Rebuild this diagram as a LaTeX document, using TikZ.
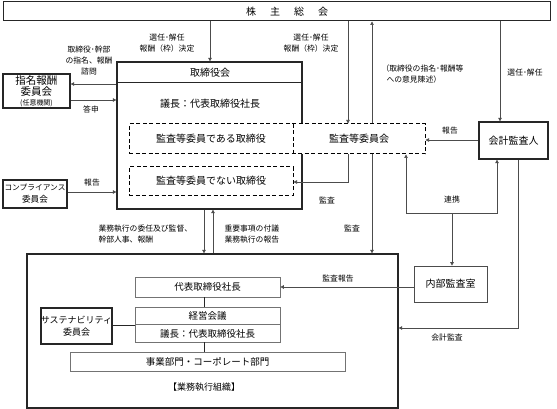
\documentclass[tikz,border=0pt]{standalone}
\usepackage{fontspec}
\setmainfont{Noto Sans CJK JP}
\usetikzlibrary{arrows.meta}
\begin{document}
\begin{tikzpicture}[x=1pt,y=-1pt,
  big/.style={font=\fontsize{10}{12}\selectfont},
  lab/.style={font=\fontsize{7.8}{11.5}\selectfont},
  thickbox/.style={draw=black!85,line width=1.3pt,fill=white,inner sep=0pt},
  thinbox/.style={draw=black!55,line width=0.7pt,fill=white,inner sep=0pt},
  dbox/.style={draw=black,line width=1pt,dash pattern=on 4pt off 2.5pt,fill=white,inner sep=0pt},
  arr/.style={draw=black!70,line width=0.7pt,-{Triangle[length=3.5pt,width=3.5pt]}},
  ln/.style={draw=black!85,line width=1pt},
  bx/.style 2 args={minimum width=#1,minimum height=#2}]
\useasboundingbox (0,0) rectangle (557,409);
% shareholders
\node[thickbox,bx={547pt}{19pt},line width=1pt] (sh) at (276.5,11.5) {};
\node[big] (shT) at (287,11.5) {株\hspace{14pt}主\hspace{14pt}総\hspace{14pt}会};
% board
\node[thickbox,bx={185pt}{147pt}] (board) at (209.5,135.5) {};
\draw[ln] (117,83) -- (302,83);
\node[big] (boardT) at (210,72.5) {取締役会};
\node[big] (chair) at (210,104) {議長：代表取締役社長};
% audit committee dashed
\node[dbox,bx={296pt}{30pt}] (aud) at (277,139) {};
\draw[line width=1pt,dash pattern=on 4pt off 2.5pt] (293,124) -- (293,154);
\node[big] (audd) at (211,139) {監査等委員である取締役};
\node[big] (audT) at (359,139) {監査等委員会};
\node[dbox,bx={164pt}{28pt}] (nond) at (211,181) {\fontsize{10}{12}\selectfont 監査等委員でない取締役};
% left committees
\node[thickbox,bx={67pt}{34pt},align=center] (nom) at (36.5,91) {\fontsize{10.5}{11}\selectfont 指名報酬\\[-1pt]\fontsize{10.5}{11}\selectfont 委員会\\[-2pt]\fontsize{7}{8}\selectfont (任意機関)};
\node[thickbox,bx={64pt}{28pt},align=center] (comp) at (35,194) {\fontsize{7.7}{11}\selectfont コンプライアンス\\\fontsize{8.6}{11}\selectfont 委員会};
% right side
\node[thickbox,bx={69pt}{37pt}] (kai) at (513.5,140.5) {\fontsize{10}{12}\selectfont 会計監査人};
\node[thinbox,bx={73pt}{36pt},draw=black!70] (naibu) at (450.5,284) {\fontsize{10}{12}\selectfont 内部監査室};
% execution
\node[thickbox,bx={371pt}{154pt}] (exec) at (212.5,331) {};
\node[thinbox,bx={145pt}{20pt}] (pres) at (207.5,287) {\fontsize{9.5}{12}\selectfont 代表取締役社長};
\node[thinbox,bx={145pt}{35pt}] (keiei) at (207.5,324.5) {};
\draw[draw=black!55,line width=0.7pt] (135,324) -- (280,324);
\node[font=\fontsize{9.5}{12}\selectfont] (keieiT) at (207.5,315.5) {経営会議};
\node[font=\fontsize{9.5}{12}\selectfont] (keieiC) at (207.5,333.5) {議長：代表取締役社長};
\node[thinbox,bx={275pt}{19pt}] (jigyo) at (207.5,361.5) {\fontsize{9.5}{12}\selectfont 事業部門・コーポレート部門};
\node[thickbox,bx={67pt}{36pt},align=center] (sust) at (76.5,326) {\fontsize{9}{11}\selectfont サステナビリティ\\\fontsize{9}{11}\selectfont 委員会};
\node[font=\fontsize{9}{12}\selectfont] (org) at (204,387) {【業務執行組織】};
% connectors
\draw[arr] (sh.south -| 210,0) -- (board.north -| 210,0);
\draw[arr] (sh.south -| 348,0) -- (aud.north -| 348,0);
\draw[arr] (aud.north -| 372,0) -- (sh.south -| 372,0);
\draw[arr] (sh.south -| 500,0) -- (kai.north -| 500,0);
\draw[arr] (board.west |- 0,84) -- (nom.east |- 0,84);
\draw[arr] (nom.east |- 0,100) -- (board.west |- 0,100);
\draw[arr] (comp.east |- 0,192) -- (board.west |- 0,192);
\draw[arr] (kai.west |- 0,140) -- (aud.east |- 0,140);
\draw[arr] (aud.south -| 348,0) |- (nond.east |- 0,182);
\draw[arr] (aud.south -| 372,0) -- (exec.north -| 372,0);
\coordinate (rk) at (452,213);
\draw[arr] (rk) -| (aud.south -| 406,0);
\draw[arr] (rk) -| (kai.south -| 497,0);
\draw[arr] (rk) -- (naibu.north -| rk);
\draw[arr] (naibu.west |- 0,287) -- (pres.east |- 0,287);
\draw[arr] (kai.south -| 518,0) |- (exec.east |- 0,328);
\draw[arr] (board.south -| 204,0) -- (exec.north -| 204,0);
\draw[arr] (exec.north -| 213,0) -- (board.south -| 213,0);
\draw[ln] (pres.south -| 204,0) -- (keiei.north -| 204,0);
\draw[ln] (keiei.south -| 204,0) -- (jigyo.north -| 204,0);
\draw[ln] (sust.east |- 0,325) -- (keiei.west |- 0,325);
% labels
\node[lab,align=center] (l1) at (167,43) {選任･解任\\報酬（枠）決定};
\node[lab,align=center] (l2) at (311,43) {選任･解任\\報酬（枠）決定};
\node[lab,align=left,anchor=west] (l3) at (378,74) {（取締役の指名･報酬等\\\hspace{5pt}への意見陳述）};
\node[lab] (l4) at (525,73) {選任･解任};
\node[lab,align=center,font=\fontsize{7.8}{11}\selectfont] (l5) at (89,61) {取締役･幹部\\の指名、報酬\\諮問};
\node[lab] (l6) at (91,109) {答申};
\node[lab] (l7) at (92,183) {報告};
\node[lab] (l8) at (450,131) {報告};
\node[lab] (l9) at (327,200) {監査};
\node[lab] (l10) at (352,228) {監査};
\node[lab] (l11) at (452,200) {連携};
\node[lab,align=left,anchor=west] (l12) at (95,234) {業務執行の委任及び監督、\\幹部人事、報酬};
\node[lab,align=left,anchor=west] (l13) at (221,234) {重要事項の付議\\業務執行の報告};
\node[lab] (l14) at (338,279) {監査報告};
\node[lab] (l15) at (447,338) {会計監査};
\end{tikzpicture}
\end{document}
